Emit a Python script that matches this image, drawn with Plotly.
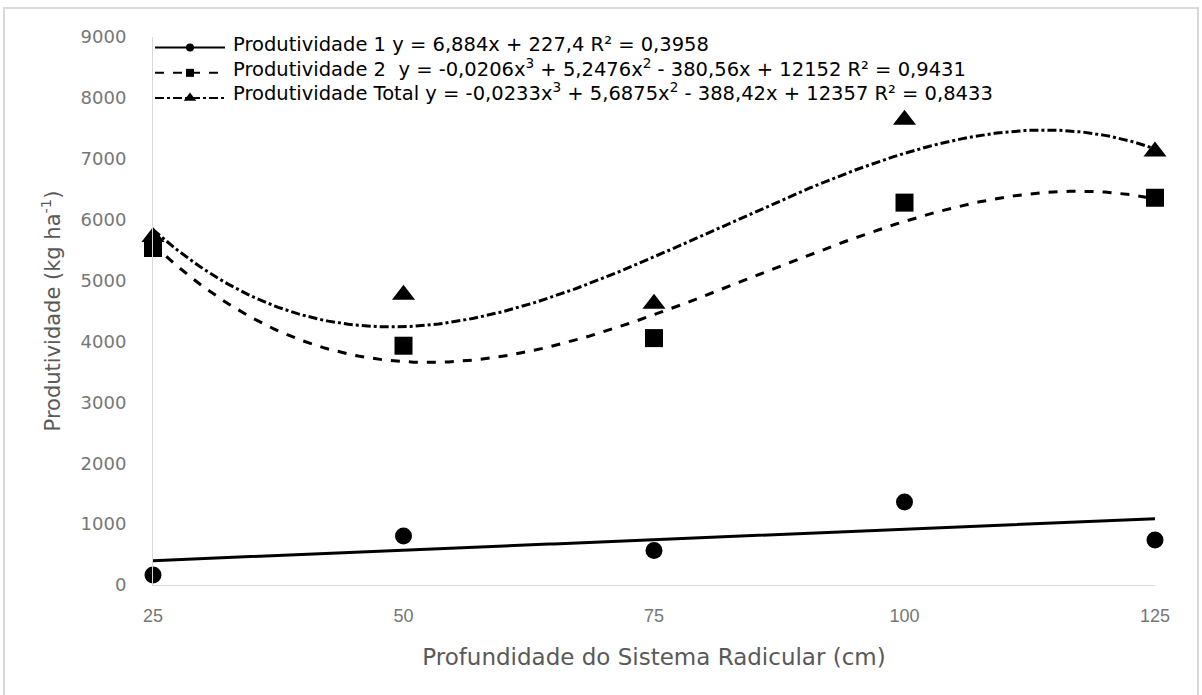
import numpy as np
import plotly.graph_objects as go

depth = [25, 50, 75, 100, 125]
prod1 = [165, 805, 565, 1365, 740]
prod2 = [5535, 3930, 4055, 6280, 6360]
prod_total = [5715, 4765, 4620, 7640, 7120]

coef1 = [6.884, 227.4]
coef2 = [-0.0206, 5.2476, -380.56, 12152]
coef_total = [-0.0233, 5.6875, -388.42, 12357]

legend_texts = [
    "Produtividade 1 y = 6,884x + 227,4 R² = 0,3958",
    "Produtividade 2  y = -0,0206x<sup>3</sup> + 5,2476x<sup>2</sup> - 380,56x + 12152 R² = 0,9431",
    "Produtividade Total y = -0,0233x<sup>3</sup> + 5,6875x<sup>2</sup> - 388,42x + 12357 R² = 0,8433",
]
trace_names = ["Produtividade 1", "Produtividade 2", "Produtividade Total"]

W, H = 1202, 695
L, R, T, B = 153, 47, 37, 110
pw, ph = W - L - R, H - T - B

xs = np.linspace(25, 125, 201)
fig = go.Figure()

series = [
    (prod1, coef1, "circle", 17, "solid", 8),
    (prod2, coef2, "square", 18, "dash", 8),
    (prod_total, coef_total, "triangle-up", 20, "dashdot", 11),
]
for i, (vals, coef, sym, size, dash, lsize) in enumerate(series):
    fig.add_trace(go.Scatter(
        x=xs, y=np.polyval(coef, xs), mode="lines",
        line=dict(color="black", width=3, dash=dash),
        showlegend=False, hoverinfo="skip", cliponaxis=False))
    fig.add_trace(go.Scatter(
        x=depth, y=vals, mode="markers", name=trace_names[i],
        marker=dict(symbol=sym, size=size, color="black"),
        showlegend=False, cliponaxis=False))
for i, (vals, coef, sym, size, dash, lsize) in enumerate(series):
    fig.add_trace(go.Scatter(
        x=[None], y=[None], mode="lines+markers", name="\u00a0",
        marker=dict(symbol=sym, size=lsize, color="black"),
        line=dict(color="black", width=2, dash=dash)))

row_y = [44, 68, 92]
annotations = []
for txt, yp in zip(legend_texts, row_y):
    annotations.append(dict(
        text=txt, xref="paper", yref="paper",
        x=(231 - L) / pw, y=(H - B - yp) / ph,
        xanchor="left", yanchor="middle", showarrow=False,
        font=dict(family="DejaVu Sans, sans-serif", size=19.5, color="black")))

fig.update_layout(
    width=W, height=H,
    margin=dict(l=L, r=R, t=T, b=B),
    paper_bgcolor="white", plot_bgcolor="white",
    font=dict(family="Liberation Sans, Arial, sans-serif", color="black"),
    legend=dict(
        x=(150 - L) / pw, y=(H - B - 30) / ph, xanchor="left", yanchor="top",
        bgcolor="rgba(0,0,0,0)", itemwidth=70,
        font=dict(size=17.1, color="black"),
        tracegroupgap=0,
    ),
    annotations=annotations,
    xaxis=dict(
        range=[25, 125], tickvals=depth, ticks="",
        showgrid=False, zeroline=False,
        showline=True, linecolor="#d9d9d9", linewidth=1,
        tickfont=dict(size=18, color="#767676"),
        ticklabelstandoff=14,
        title=dict(text="Profundidade do Sistema Radicular (cm)",
                   font=dict(family="DejaVu Sans, sans-serif", size=23, color="#595959"), standoff=24),
    ),
    yaxis=dict(
        range=[0, 9000], dtick=1000, ticks="",
        showgrid=False, zeroline=False,
        showline=True, linecolor="#d9d9d9", linewidth=1,
        tickfont=dict(family="DejaVu Sans, sans-serif", size=18, color="#767676"),
        ticklabelstandoff=22,
        title=dict(text="Produtividade (kg ha<sup>-1</sup>)",
                   font=dict(family="DejaVu Sans, sans-serif", size=21, color="#595959"), standoff=14),
    ),
    shapes=[dict(
        type="rect", xref="paper", yref="paper",
        x0=(4 - L) / pw, x1=(1198 - L) / pw,
        y0=(H - B - 705) / ph, y1=(H - B - 8) / ph,
        line=dict(color="#d9d9d9", width=2), fillcolor="rgba(0,0,0,0)", layer="below")],
)

fig.write_html("out.html")
